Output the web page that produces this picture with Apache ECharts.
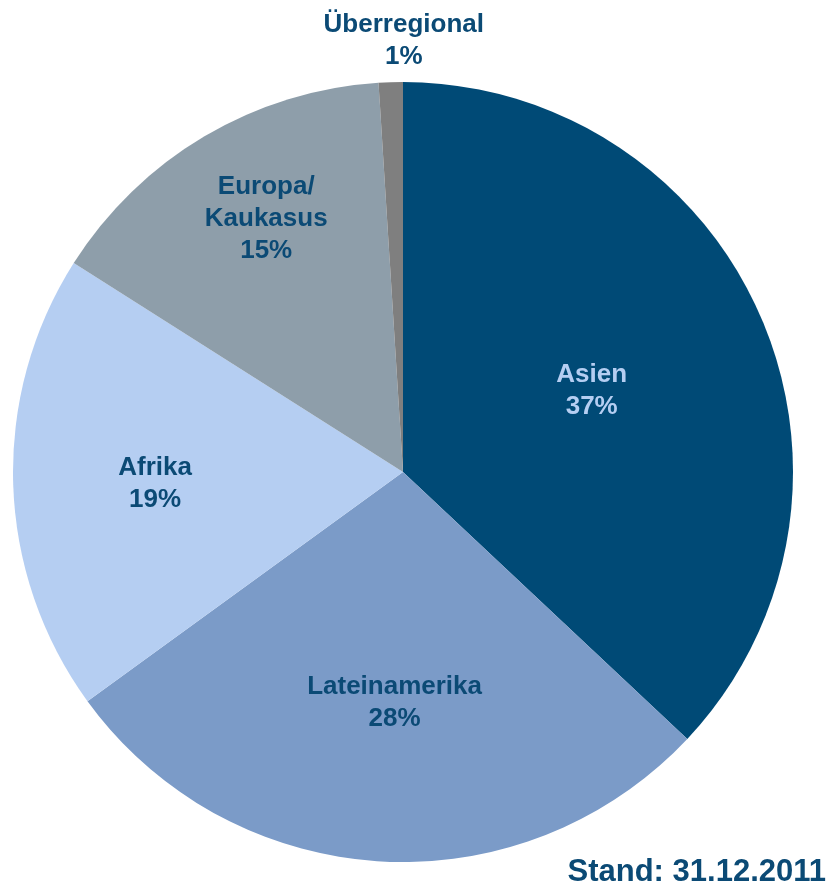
<!DOCTYPE html>
<html>
<head>
<meta charset="utf-8">
<script src="https://cdn.jsdelivr.net/npm/echarts@6/dist/echarts.min.js"></script>
<style>
  html, body { margin: 0; padding: 0; background: #ffffff; }
  #chart { width: 830px; height: 888px; }
</style>
</head>
<body>
<div id="chart"></div>
<script>
// Data
var categories = ['Asien', 'Lateinamerika', 'Afrika', 'Europa/\nKaukasus', 'Überregional'];
var shares = [37, 28, 19, 15, 1];
var footnote = 'Stand: 31.12.2011';

// Styles (kept separate from data)
var sliceColors = ['#004A76', '#7B9BC8', '#B5CEF2', '#8E9EAA', '#7F7F7F'];
var labelColors = ['#B5CEF2', '#0B4A75', '#0B4A75', '#0B4A75', '#0B4A75'];
var labelOffsets = [[7, -3], [4, 33], [-50, 6], [-36, -83], [7, -233]];

var FONT = '"Liberation Sans", Arial, sans-serif';

var chart = echarts.init(document.getElementById('chart'), null, { renderer: 'canvas' });

var seriesData = categories.map(function (name, i) {
  return {
    name: name,
    value: shares[i],
    itemStyle: { color: sliceColors[i] },
    label: { color: labelColors[i], offset: labelOffsets[i] }
  };
});

chart.setOption({
  backgroundColor: '#ffffff',
  animation: false,
  series: [{
    type: 'pie',
    center: [403, 472],
    radius: [0, 390],
    startAngle: 90,
    clockwise: true,
    avoidLabelOverlap: false,
    itemStyle: { borderWidth: 0 },
    label: {
      show: true,
      position: 'inside',
      formatter: '{b}\n{d}%',
      fontFamily: FONT,
      fontWeight: 'bold',
      fontSize: 26,
      lineHeight: 32,
      align: 'center'
    },
    labelLine: { show: false },
    emphasis: { disabled: true },
    data: seriesData
  }],
  graphic: [{
    type: 'text',
    x: 826,
    y: 872,
    style: {
      text: footnote,
      fontFamily: FONT,
      fontWeight: 'bold',
      fontSize: 31,
      fill: '#0B4A75',
      align: 'right',
      verticalAlign: 'middle'
    }
  }]
});
</script>
</body>
</html>
